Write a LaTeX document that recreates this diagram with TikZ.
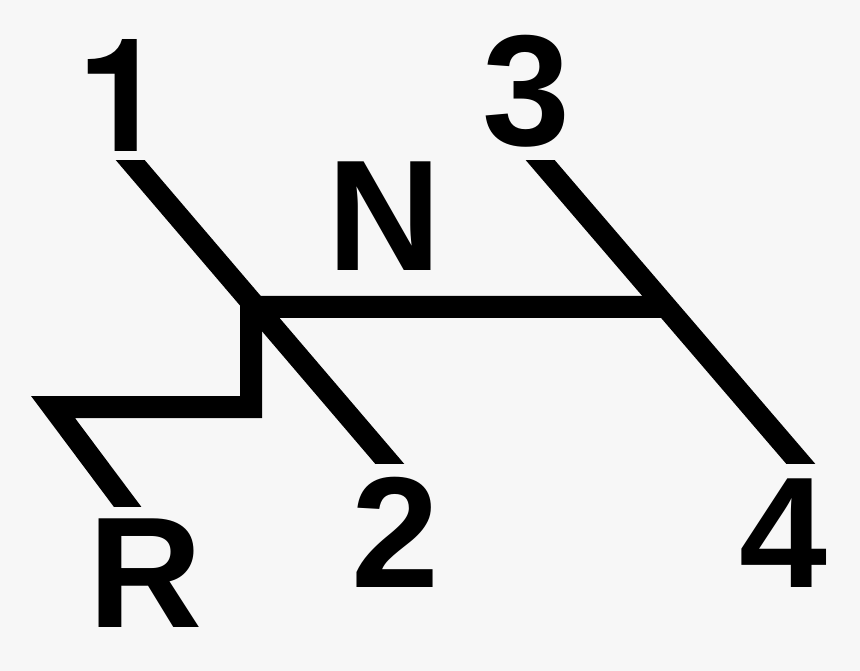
\documentclass[tikz,border=0pt]{standalone}
\usepackage{fontspec}
\setmainfont{Liberation Sans}
\newfontfamily\herosfont{TeX Gyre Heros}
\definecolor{paper}{HTML}{F7F7F7}
\tikzset{
  gear/.style={line width=22pt, line cap=butt, line join=miter},
  gearlabel/.style={font=\bfseries\fontsize{158}{158}\selectfont, inner sep=0pt, anchor=base}
}
\begin{document}
\begin{tikzpicture}[x=1pt, y=-1pt]
	    \fill[paper] (0, 0) rectangle (860, 671);
	    % labels
	    \node[gearlabel, font=\herosfont\bfseries\fontsize{158}{158}\selectfont] (one) at (121, 152) {1};
	    \node[gearlabel] (three) at (526, 146) {3};
	    \node[gearlabel] (neutral) at (385, 271) {N};
	    \node[gearlabel] (two) at (395, 587) {2};
	    \node[gearlabel] (four) at (783, 587) {4};
	    \node[gearlabel] (rev) at (146, 627) {R};
	    % ends of the gate
	    \coordinate (g1) at (118.2, 146);
	    \coordinate (g2) at (401.8, 478);
	    \coordinate (g3) at (528.1, 146);
	    \coordinate (g4) at (812.9, 478);
	    \coordinate (mid) at (251, 307);
	    \coordinate (right) at (666, 307);
	    \coordinate (down) at (251, 407);
	    \coordinate (bend) at (53, 407);
	    \coordinate (gr) at (141.9, 526);
	    \begin{scope}
	        \clip (0, 161) rectangle (860, 463);
	        \draw[gear] (g1) -- (g2);
	        \draw[gear] (g3) -- (g4);
	    \end{scope}
	    \begin{scope}
	        \clip (0, 0) rectangle (860, 506);
	        \draw[gear] (right) -- (mid) -- (down) -- (bend) -- (gr);
	    \end{scope}
\end{tikzpicture}
\end{document}
